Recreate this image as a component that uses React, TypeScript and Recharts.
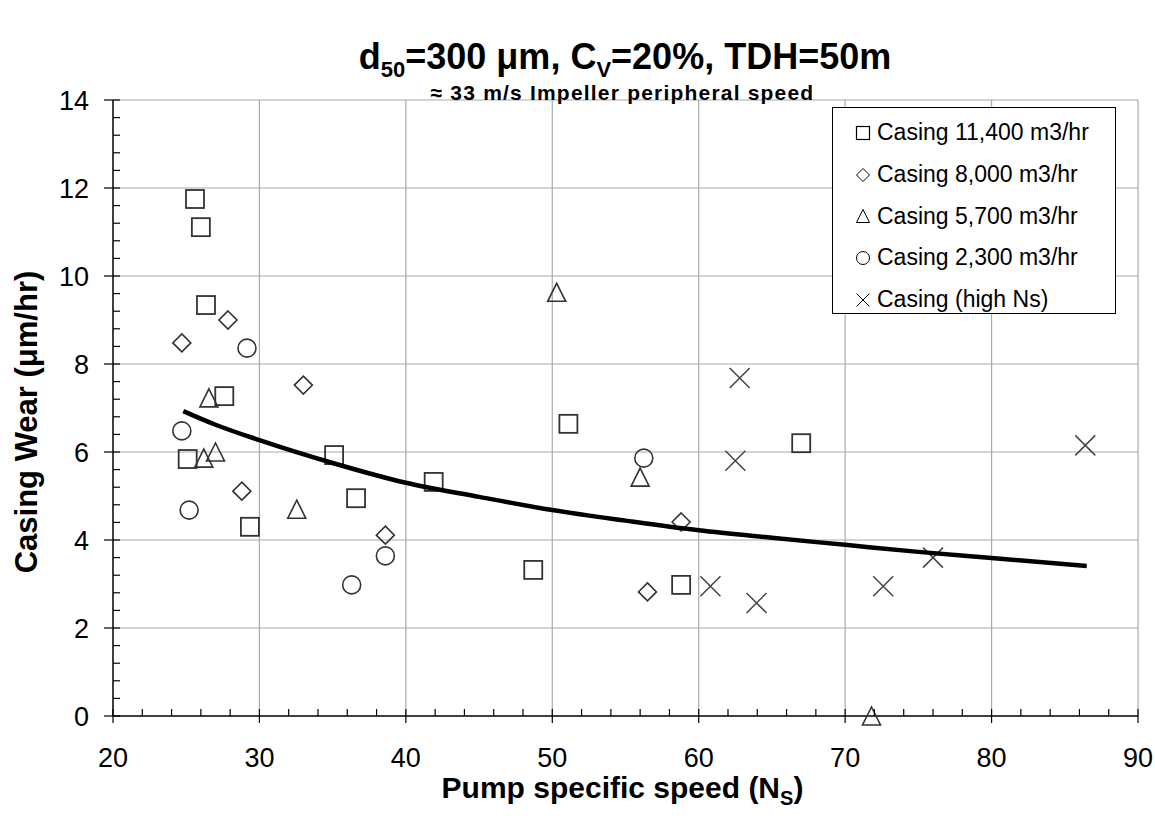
import { ReferenceLine, Scatter, ScatterChart, XAxis, YAxis } from "recharts";

// pump specific speed (Ns) and casing wear (µm/hr)
const sq11400Ns = [25.6, 26.0, 26.35, 27.6, 25.1, 29.35, 35.1, 36.6, 41.9, 48.7, 51.1, 58.8, 67.0];
const sq11400Wear = [11.75, 11.11, 9.34, 7.27, 5.84, 4.3, 5.93, 4.95, 5.32, 3.32, 6.64, 2.98, 6.2];

const dia8000Ns = [24.7, 27.85, 33.0, 28.8, 38.6, 58.8, 56.5];
const dia8000Wear = [8.48, 9.0, 7.52, 5.11, 4.11, 4.41, 2.82];

const tri5700Ns = [26.55, 26.2, 27.0, 32.55, 50.3, 56.0, 71.8];
const tri5700Wear = [7.23, 5.86, 6.0, 4.7, 9.63, 5.43, 0];

const circ2300Ns = [29.15, 24.7, 25.2, 38.6, 36.3, 56.25];
const circ2300Wear = [8.36, 6.48, 4.68, 3.64, 2.98, 5.86];

const highNs = [62.8, 62.5, 60.8, 63.95, 72.6, 76.0, 86.4];
const highNsWear = [7.68, 5.8, 2.95, 2.57, 2.95, 3.6, 6.15];

const trendNs = [24.8, 27, 30, 35, 40, 45, 50, 55, 60, 65, 70, 75, 80, 86.5];
const trendWear = [6.93, 6.62, 6.27, 5.75, 5.3, 4.98, 4.68, 4.44, 4.22, 4.05, 3.89, 3.73, 3.59, 3.41];

const xMajor = [20, 30, 40, 50, 60, 70, 80, 90];
const yMajor = [0, 2, 4, 6, 8, 10, 12, 14];

const xTicks: number[] = [];
for (let v = 20; v <= 90; v += 2) xTicks.push(v);
const yTicks: number[] = [];
for (let i = 0; i <= 35; i++) yTicks.push(Math.round(i * 4) / 10);

const zip = (xs: number[], ys: number[]) => xs.map((x, i) => ({ x, y: ys[i] }));

const MK = "#333";

const Square = (p: any) => (
  <rect x={p.cx - 9} y={p.cy - 9} width={18} height={18} fill="none" stroke={MK} strokeWidth={1.8} />
);
const Diamond = (p: any) => (
  <path d={`M${p.cx},${p.cy - 9}L${p.cx + 9},${p.cy}L${p.cx},${p.cy + 9}L${p.cx - 9},${p.cy}Z`} fill="none" stroke={MK} strokeWidth={1.6} />
);
const Triangle = (p: any) => (
  <path d={`M${p.cx},${p.cy - 9}L${p.cx + 9},${p.cy + 9}L${p.cx - 9},${p.cy + 9}Z`} fill="none" stroke={MK} strokeWidth={1.6} />
);
const Circle = (p: any) => <circle cx={p.cx} cy={p.cy} r={9} fill="none" stroke={MK} strokeWidth={1.6} />;
const Cross = (p: any) => (
  <path d={`M${p.cx - 10},${p.cy - 10}L${p.cx + 10},${p.cy + 10}M${p.cx - 10},${p.cy + 10}L${p.cx + 10},${p.cy - 10}`} stroke="#444" strokeWidth={1.5} />
);
const NoDot = () => <g />;

const isMajor = (v: number, step: number) => Math.abs(v / step - Math.round(v / step)) < 1e-6;

const XTick = ({ x, y, payload }: any) => {
  const major = isMajor(payload.value, 10);
  return (
    <g>
      <line x1={x} x2={x} y1={y - 7} y2={major ? y + 7 : y} stroke="#000" strokeWidth={1.2} />
      {major && (
        <text x={x} y={y + 51} textAnchor="middle" fontSize={27} fill="#000">
          {payload.value}
        </text>
      )}
    </g>
  );
};

const YTick = ({ x, y, payload }: any) => {
  const major = isMajor(payload.value, 2);
  return (
    <g>
      <line x1={major ? x - 9 : x} x2={x + 7} y1={y} y2={y} stroke="#000" strokeWidth={1.2} />
      {major && (
        <text x={x - 24} y={y + 10} textAnchor="end" fontSize={27} fill="#000">
          {Math.round(payload.value)}
        </text>
      )}
    </g>
  );
};

const legendRows = [
  { label: "Casing 11,400 m3/hr", icon: "sq" },
  { label: "Casing 8,000 m3/hr", icon: "dia" },
  { label: "Casing 5,700 m3/hr", icon: "tri" },
  { label: "Casing 2,300 m3/hr", icon: "circ" },
  { label: "Casing (high Ns)", icon: "x" },
];

function LegendIcon({ kind }: { kind: string }) {
  return (
    <svg width={16} height={16} style={{ marginRight: 6, flex: "none" }}>
      {kind === "sq" && <rect x={1.5} y={1.5} width={13} height={13} fill="none" stroke="#000" strokeWidth={1.2} />}
      {kind === "dia" && <path d="M8,1.5L14.5,8L8,14.5L1.5,8Z" fill="none" stroke="#000" strokeWidth={1} />}
      {kind === "tri" && <path d="M8,1.5L14.5,14.5L1.5,14.5Z" fill="none" stroke="#000" strokeWidth={1} />}
      {kind === "circ" && <circle cx={8} cy={8} r={6.5} fill="none" stroke="#000" strokeWidth={1} />}
      {kind === "x" && <path d="M1.5,1.5L14.5,14.5M1.5,14.5L14.5,1.5" stroke="#000" strokeWidth={1} />}
    </svg>
  );
}

export default function App() {
  const font = "'Liberation Sans', Arial, sans-serif";
  return (
    <div style={{ position: "absolute", left: 0, top: 0, width: 1155, height: 828, background: "#fff", fontFamily: font }}>
      <ScatterChart width={1155} height={828} margin={{ top: 100, right: 17, bottom: 52, left: 53 }} style={{ fontFamily: font }}>
        <XAxis
          type="number"
          dataKey="x"
          domain={[20, 90]}
          ticks={xTicks}
          interval={0}
          tickSize={0}
          tickMargin={0}
          tick={<XTick />}
          height={60}
          axisLine={{ stroke: "#000", strokeWidth: 1.5 }}
        />
        <YAxis
          type="number"
          dataKey="y"
          domain={[0, 14]}
          ticks={yTicks}
          interval={0}
          tickSize={0}
          tickMargin={0}
          tick={<YTick />}
          width={60}
          axisLine={{ stroke: "#000", strokeWidth: 1.5 }}
        />
        {xMajor.slice(1).map((v) => (
          <ReferenceLine key={`gx${v}`} x={v} stroke="#aaa" strokeWidth={1.2} />
        ))}
        {yMajor.slice(1).map((v) => (
          <ReferenceLine key={`gy${v}`} y={v} stroke="#aaa" strokeWidth={1.2} />
        ))}
        <Scatter data={zip(sq11400Ns, sq11400Wear)} shape={Square} isAnimationActive={false} />
        <Scatter data={zip(dia8000Ns, dia8000Wear)} shape={Diamond} isAnimationActive={false} />
        <Scatter data={zip(tri5700Ns, tri5700Wear)} shape={Triangle} isAnimationActive={false} />
        <Scatter data={zip(circ2300Ns, circ2300Wear)} shape={Circle} isAnimationActive={false} />
        <Scatter data={zip(highNs, highNsWear)} shape={Cross} isAnimationActive={false} />
        <Scatter
          data={zip(trendNs, trendWear)}
          shape={NoDot}
          line={{ stroke: "#000", strokeWidth: 4.5 }}
          lineJointType="monotoneX"
          isAnimationActive={false}
        />
      </ScatterChart>

      <div style={{ position: "absolute", left: 0, width: 1250, top: 37, textAlign: "center", fontWeight: "bold", fontSize: 36, lineHeight: "40px" }}>
        d<sub style={{ fontSize: 22, lineHeight: 0 }}>50</sub>=300 μm, C<sub style={{ fontSize: 22, lineHeight: 0 }}>V</sub>=20%, TDH=50m
      </div>
      <div
        style={{
          position: "absolute",
          left: 0,
          width: 1245,
          top: 82,
          textAlign: "center",
          fontWeight: "bold",
          fontSize: 21,
          lineHeight: "21px",
          letterSpacing: 1.2,
        }}
      >
        ≈ 33 m/s Impeller peripheral speed
      </div>
      <div style={{ position: "absolute", left: 0, width: 1245, top: 771, textAlign: "center", fontWeight: "bold", fontSize: 30, lineHeight: "34px" }}>
        Pump specific speed (N<sub style={{ fontSize: 20, lineHeight: 0 }}>S</sub>)
      </div>
      <div
        style={{
          position: "absolute",
          left: 27,
          top: 422,
          transform: "translate(-50%, -50%) rotate(-90deg)",
          whiteSpace: "nowrap",
          fontWeight: "bold",
          fontSize: 31,
        }}
      >
        Casing Wear (μm/hr)
      </div>

      <div
        style={{
          position: "absolute",
          left: 832,
          top: 107,
          width: 284,
          height: 207,
          border: "1.5px solid #000",
          background: "#fff",
          boxSizing: "border-box",
          paddingTop: 4,
        }}
      >
        {legendRows.map((r) => (
          <div key={r.label} style={{ display: "flex", alignItems: "center", height: 41.7, paddingLeft: 22, fontSize: 23 }}>
            <LegendIcon kind={r.icon} />
            {r.label}
          </div>
        ))}
      </div>
    </div>
  );
}
